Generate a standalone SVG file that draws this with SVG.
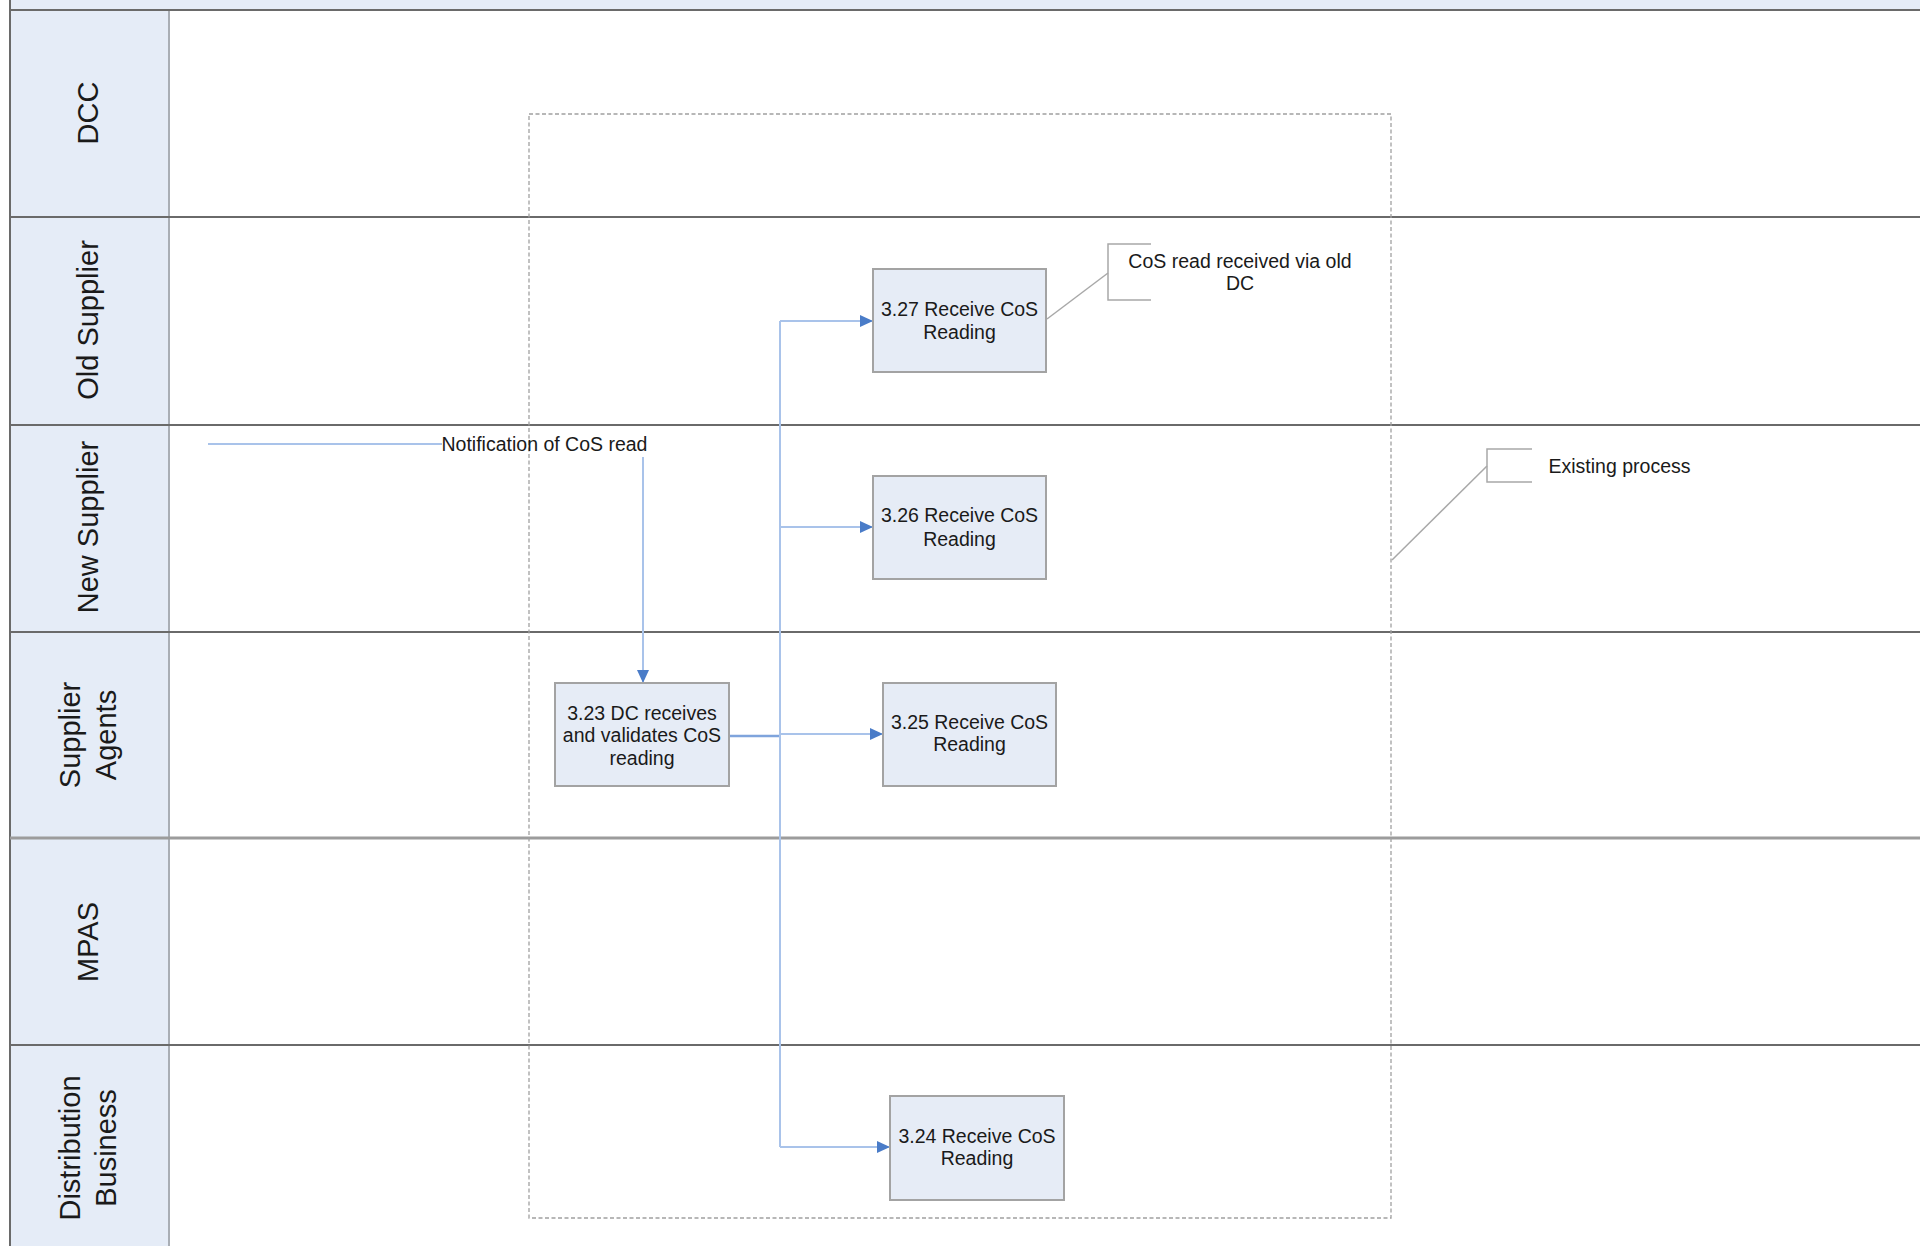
<svg xmlns="http://www.w3.org/2000/svg" width="1920" height="1246" viewBox="0 0 1920 1246">
<style>
  text { font-family: "Liberation Sans", Arial, sans-serif; fill: #1a1a1a; }
  .lane-label { font-size: 29px; text-anchor: middle; dominant-baseline: central; }
  .node-box { fill: #e6ecf6; stroke: #a3a3a3; stroke-width: 2; }
  .node-text { font-size: 19.5px; text-anchor: middle; }
  .lane-line { stroke: #6a6a6a; stroke-width: 2; }
  .flow { fill: none; stroke: #a9c3ea; stroke-width: 2; }
  .flow-dark { fill: none; stroke: #7fa4dc; stroke-width: 2.5; }
  .note { fill: none; stroke: #a8a8a8; stroke-width: 1.5; }
  .note-text { font-size: 19.5px; }
</style>
<defs>
  <marker id="arrow" markerUnits="userSpaceOnUse" markerWidth="13" markerHeight="12" refX="13" refY="6" orient="auto">
    <path d="M0,0 L13,6 L0,12 z" fill="#4a7cc8"/>
  </marker>
</defs>

<!-- background -->
<rect x="0" y="0" width="1920" height="1246" fill="#ffffff"/>

<!-- pool / lanes -->
<g id="pool">
  <rect x="10" y="0" width="1910" height="10" fill="#e5ecf7"/>
  <rect x="10" y="10" width="159" height="1246" fill="#e5ecf7"/>
  <line x1="169" y1="10" x2="169" y2="1246" stroke="#a9aeb5" stroke-width="2"/>
  <line x1="10" y1="0" x2="10" y2="1246" class="lane-line"/>
  <line x1="10" y1="10" x2="1920" y2="10" class="lane-line"/>
  <line x1="10" y1="217" x2="1920" y2="217" class="lane-line"/>
  <line x1="10" y1="425" x2="1920" y2="425" class="lane-line"/>
  <line x1="10" y1="632" x2="1920" y2="632" class="lane-line"/>
  <line x1="10" y1="838" x2="1920" y2="838" stroke="#9c9c9c" stroke-width="3"/>
  <line x1="10" y1="1045" x2="1920" y2="1045" class="lane-line"/>
</g>

<g id="lane-dcc">
  <text class="lane-label" transform="translate(88,113) rotate(-90)">DCC</text>
</g>
<g id="lane-old-supplier">
  <text class="lane-label" transform="translate(88,320) rotate(-90)">Old Supplier</text>
</g>
<g id="lane-new-supplier">
  <text class="lane-label" transform="translate(88,527) rotate(-90)">New Supplier</text>
</g>
<g id="lane-supplier-agents">
  <text class="lane-label" transform="translate(70,735) rotate(-90)">Supplier</text>
  <text class="lane-label" transform="translate(106,735) rotate(-90)">Agents</text>
</g>
<g id="lane-mpas">
  <text class="lane-label" transform="translate(88,942) rotate(-90)">MPAS</text>
</g>
<g id="lane-distribution">
  <text class="lane-label" transform="translate(70,1148) rotate(-90)">Distribution</text>
  <text class="lane-label" transform="translate(106,1148) rotate(-90)">Business</text>
</g>

<!-- dashed group boundary -->
<g id="group-boundary">
  <rect x="529" y="114" width="862" height="1104" fill="none" stroke="#a0a0a0" stroke-width="1.3" stroke-dasharray="4,2.5"/>
</g>

<!-- connectors -->
<g id="connectors">
  <line x1="208" y1="444" x2="442" y2="444" class="flow"/>
  <path d="M643,457 V683" class="flow" marker-end="url(#arrow)"/>
  <line x1="729" y1="736" x2="780" y2="736" class="flow-dark"/>
  <line x1="780" y1="321" x2="780" y2="1147" class="flow"/>
  <path d="M780,321 H873" class="flow" marker-end="url(#arrow)"/>
  <path d="M780,527 H873" class="flow" marker-end="url(#arrow)"/>
  <path d="M780,734 H883" class="flow" marker-end="url(#arrow)"/>
  <path d="M780,1147 H890" class="flow" marker-end="url(#arrow)"/>
  <text x="544.5" y="451" class="note-text" text-anchor="middle">Notification of CoS read</text>
</g>

<!-- nodes -->
<g id="node-3-23">
  <rect x="555" y="683" width="174" height="103" class="node-box"/>
  <text x="642" y="719.5" class="node-text">3.23 DC receives</text>
  <text x="642" y="742" class="node-text">and validates CoS</text>
  <text x="642" y="765" class="node-text">reading</text>
</g>
<g id="node-3-27">
  <rect x="873" y="269" width="173" height="103" class="node-box"/>
  <text x="959.5" y="316" class="node-text">3.27 Receive CoS</text>
  <text x="959.5" y="339" class="node-text">Reading</text>
</g>
<g id="node-3-26">
  <rect x="873" y="476" width="173" height="103" class="node-box"/>
  <text x="959.5" y="522" class="node-text">3.26 Receive CoS</text>
  <text x="959.5" y="546" class="node-text">Reading</text>
</g>
<g id="node-3-25">
  <rect x="883" y="683" width="173" height="103" class="node-box"/>
  <text x="969.5" y="729" class="node-text">3.25 Receive CoS</text>
  <text x="969.5" y="751" class="node-text">Reading</text>
</g>
<g id="node-3-24">
  <rect x="890" y="1096" width="174" height="104" class="node-box"/>
  <text x="977" y="1143" class="node-text">3.24 Receive CoS</text>
  <text x="977" y="1165" class="node-text">Reading</text>
</g>

<!-- annotations -->
<g id="note-old-dc">
  <path d="M1151,244 H1108 V300 H1151" class="note"/>
  <line x1="1047" y1="319" x2="1108" y2="273" class="note"/>
  <text x="1240" y="268" class="note-text" text-anchor="middle">CoS read received via old</text>
  <text x="1240" y="290" class="note-text" text-anchor="middle">DC</text>
</g>
<g id="note-existing">
  <path d="M1532,449 H1487 V482 H1532" class="note"/>
  <line x1="1392" y1="560" x2="1487" y2="466" class="note"/>
  <text x="1619.5" y="473" class="note-text" text-anchor="middle">Existing process</text>
</g>
</svg>
